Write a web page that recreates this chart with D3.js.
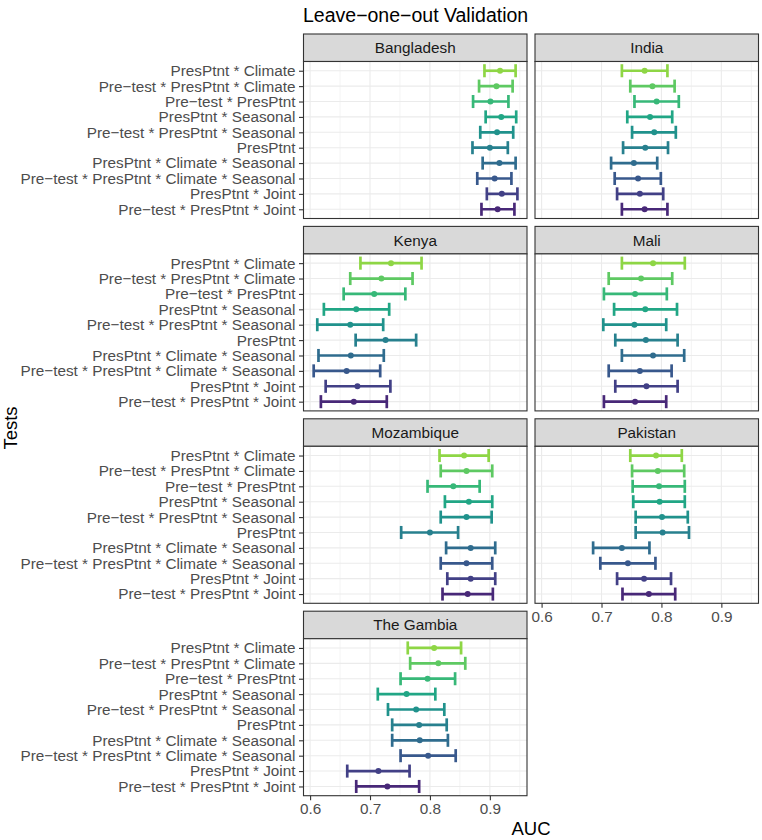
<!DOCTYPE html>
<html>
<head>
<meta charset="utf-8">
<script src="https://cdn.jsdelivr.net/npm/d3@7"></script>
<style>
  html, body { margin: 0; padding: 0; background: #ffffff; }
  svg { display: block; font-family: "Liberation Sans", Arial, Helvetica, sans-serif; }
</style>
</head>
<body>
<svg id="chart" width="762" height="840"></svg>
<script>
// ---------- data ----------
const tests = [
  "PresPtnt * Climate",
  "Pre−test * PresPtnt * Climate",
  "Pre−test * PresPtnt",
  "PresPtnt * Seasonal",
  "Pre−test * PresPtnt * Seasonal",
  "PresPtnt",
  "PresPtnt * Climate * Seasonal",
  "Pre−test * PresPtnt * Climate * Seasonal",
  "PresPtnt * Joint",
  "Pre−test * PresPtnt * Joint"
];
const countries = ["Bangladesh", "India", "Kenya", "Mali", "Mozambique", "Pakistan", "The Gambia"];
const xTicks = [0.6, 0.7, 0.8, 0.9];
const xMinorTicks = [0.65, 0.75, 0.85, 0.95];

// [lower, AUC, upper] per test, in the order of `tests`
const bangladesh = [
  [0.891, 0.917, 0.943], [0.882, 0.911, 0.938], [0.872, 0.901, 0.931], [0.893, 0.919, 0.944],
  [0.884, 0.912, 0.939], [0.871, 0.900, 0.930], [0.888, 0.916, 0.943], [0.879, 0.908, 0.936],
  [0.895, 0.920, 0.946], [0.886, 0.913, 0.941]
];
const india = [
  [0.734, 0.772, 0.810], [0.748, 0.785, 0.822], [0.755, 0.792, 0.829], [0.743, 0.781, 0.818],
  [0.751, 0.788, 0.824], [0.736, 0.773, 0.811], [0.716, 0.754, 0.793], [0.722, 0.761, 0.799],
  [0.726, 0.764, 0.803], [0.734, 0.772, 0.810]
];
const kenya = [
  [0.684, 0.735, 0.786], [0.667, 0.719, 0.771], [0.656, 0.707, 0.759], [0.623, 0.677, 0.732],
  [0.612, 0.667, 0.722], [0.676, 0.726, 0.777], [0.614, 0.668, 0.723], [0.606, 0.661, 0.717],
  [0.626, 0.679, 0.734], [0.618, 0.673, 0.728]
];
const mali = [
  [0.734, 0.786, 0.839], [0.712, 0.766, 0.818], [0.704, 0.756, 0.809], [0.721, 0.773, 0.826],
  [0.703, 0.755, 0.808], [0.723, 0.774, 0.827], [0.734, 0.786, 0.838], [0.712, 0.764, 0.817],
  [0.723, 0.775, 0.827], [0.704, 0.756, 0.808]
];
const mozambique = [
  [0.816, 0.857, 0.898], [0.818, 0.861, 0.904], [0.796, 0.839, 0.883], [0.825, 0.865, 0.904],
  [0.818, 0.861, 0.903], [0.752, 0.800, 0.847], [0.827, 0.868, 0.909], [0.818, 0.861, 0.904],
  [0.829, 0.868, 0.909], [0.821, 0.863, 0.905]
];
const pakistan = [
  [0.748, 0.791, 0.834], [0.751, 0.794, 0.838], [0.752, 0.796, 0.839], [0.753, 0.797, 0.839],
  [0.757, 0.801, 0.844], [0.757, 0.802, 0.846], [0.686, 0.734, 0.780], [0.698, 0.744, 0.790],
  [0.726, 0.771, 0.816], [0.735, 0.779, 0.823]
];
const gambia = [
  [0.763, 0.807, 0.852], [0.767, 0.814, 0.859], [0.751, 0.796, 0.842], [0.713, 0.761, 0.809],
  [0.730, 0.777, 0.824], [0.737, 0.782, 0.828], [0.737, 0.783, 0.830], [0.751, 0.797, 0.843],
  [0.662, 0.714, 0.766], [0.677, 0.729, 0.782]
];
const countryValues = [bangladesh, india, kenya, mali, mozambique, pakistan, gambia];

// ---------- layout ----------
const svg = d3.select("#chart");
const colX = [303.5, 535];
const panelW = 223.5;
const rowTop0 = 34, rowStep = 192.4, stripH = 27.5, plotH = 157;
const tickLen = 4.5;
const textGrey = "#4D4D4D", dark = "#333333";
const labelSize = 15.3;

const x = d3.scaleLinear().domain([0.589, 0.962]).range([0, panelW]);
const y = d3.scalePoint().domain(tests).range([0, plotH]).padding(0.6);
const color = d3.scaleOrdinal().domain(tests)
  .range(tests.map((t, i) => d3.interpolateViridis(0.83 - i * 0.08)));

// title
svg.append("text").attr("x", 303).attr("y", 22)
  .attr("font-size", 19.5).attr("fill", "#000").text("Leave−one−out Validation");

countries.forEach((name, ci) => {
  const col = ci % 2, row = Math.floor(ci / 2);
  const px = colX[col];
  const sTop = rowTop0 + row * rowStep;
  const pTop = sTop + stripH;
  const vals = countryValues[ci].map((v, i) => ({ test: tests[i], lo: v[0], mid: v[1], hi: v[2] }));

  // strip
  svg.append("rect").attr("x", px).attr("y", sTop).attr("width", panelW).attr("height", stripH)
    .attr("fill", "#D9D9D9").attr("stroke", dark).attr("stroke-width", 1.1);
  svg.append("text").attr("x", px + panelW / 2).attr("y", sTop + stripH / 2 + 5.4)
    .attr("text-anchor", "middle").attr("font-size", labelSize).attr("fill", "#1A1A1A").text(name);

  const g = svg.append("g").attr("transform", `translate(${px},${pTop})`);
  g.append("rect").attr("width", panelW).attr("height", plotH).attr("fill", "#fff");

  // grid
  g.selectAll(".minor").data(xMinorTicks).join("line")
    .attr("x1", d => x(d)).attr("x2", d => x(d)).attr("y1", 0).attr("y2", plotH)
    .attr("stroke", "#EBEBEB").attr("stroke-width", 0.6);
  g.selectAll(".majorx").data(xTicks).join("line")
    .attr("x1", d => x(d)).attr("x2", d => x(d)).attr("y1", 0).attr("y2", plotH)
    .attr("stroke", "#EBEBEB").attr("stroke-width", 1.1);
  g.selectAll(".majory").data(tests).join("line")
    .attr("x1", 0).attr("x2", panelW).attr("y1", d => y(d)).attr("y2", d => y(d))
    .attr("stroke", "#EBEBEB").attr("stroke-width", 1.1);

  // error bars
  const capH = y.step() * 0.85 / 2;
  const bars = g.selectAll(".bar").data(vals).join("g")
    .attr("stroke", d => color(d.test)).attr("stroke-width", 2.7).attr("fill", "none");
  bars.append("line").attr("x1", d => x(d.lo)).attr("x2", d => x(d.hi))
    .attr("y1", d => y(d.test)).attr("y2", d => y(d.test));
  bars.append("line").attr("x1", d => x(d.lo)).attr("x2", d => x(d.lo))
    .attr("y1", d => y(d.test) - capH).attr("y2", d => y(d.test) + capH);
  bars.append("line").attr("x1", d => x(d.hi)).attr("x2", d => x(d.hi))
    .attr("y1", d => y(d.test) - capH).attr("y2", d => y(d.test) + capH);
  g.selectAll(".pt").data(vals).join("circle")
    .attr("cx", d => x(d.mid)).attr("cy", d => y(d.test)).attr("r", 3)
    .attr("fill", d => color(d.test));

  // border
  g.append("rect").attr("width", panelW).attr("height", plotH)
    .attr("fill", "none").attr("stroke", dark).attr("stroke-width", 1.1);

  // y axis (left column only)
  if (col === 0) {
    const ya = g.append("g").call(d3.axisLeft(y).tickSize(tickLen).tickPadding(3.5));
    ya.select(".domain").remove();
    ya.selectAll(".tick line").attr("stroke", dark).attr("stroke-width", 1.1);
    ya.selectAll(".tick text").attr("fill", textGrey).attr("font-size", labelSize)
      .attr("font-family", "'Liberation Sans', Arial, sans-serif");
  }
  // x axis (Pakistan and The Gambia)
  if (name === "Pakistan" || name === "The Gambia") {
    const xa = g.append("g").attr("transform", `translate(0,${plotH})`)
      .call(d3.axisBottom(x).tickValues(xTicks).tickFormat(d3.format(".1f")).tickSize(tickLen).tickPadding(3));
    xa.select(".domain").remove();
    xa.selectAll(".tick line").attr("stroke", dark).attr("stroke-width", 1.1);
    xa.selectAll(".tick text").attr("fill", textGrey).attr("font-size", labelSize)
      .attr("font-family", "'Liberation Sans', Arial, sans-serif");
  }
});

// axis titles
svg.append("text").attr("x", (colX[0] + colX[1] + panelW) / 2).attr("y", 835)
  .attr("text-anchor", "middle").attr("font-size", 18.5).attr("fill", "#000").text("AUC");
svg.append("text").attr("transform", "translate(17,428) rotate(-90)")
  .attr("text-anchor", "middle").attr("font-size", 18.5).attr("fill", "#000").text("Tests");
</script>
</body>
</html>
